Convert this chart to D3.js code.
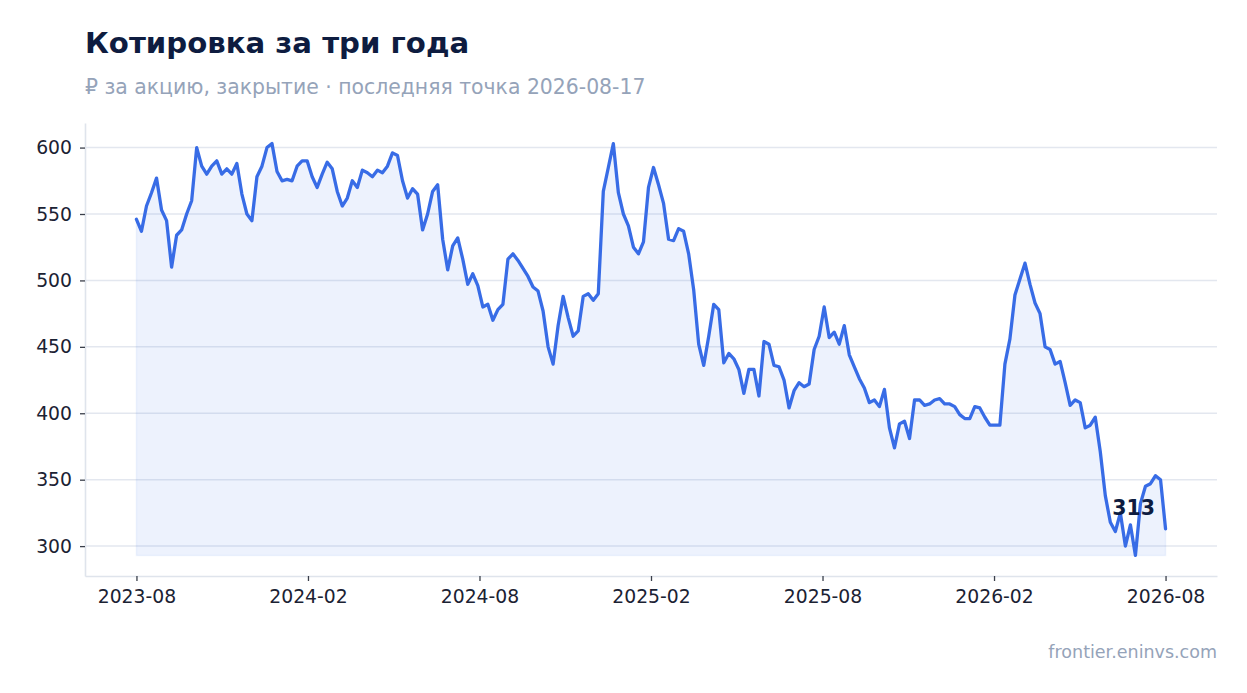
<!DOCTYPE html>
<html>
<head>
<meta charset="utf-8">
<script src="https://cdn.jsdelivr.net/npm/d3@7"></script>
<style>
  body { margin: 0; background: #fff; }
  svg { display: block; font-family: "DejaVu Sans", sans-serif; }
</style>
</head>
<body>
<div id="chart"></div>
<script>
// closing prices, evenly spaced in time from firstDate to lastDate
const firstDate = "2023-08-17";
const lastDate = "2026-08-17";
const prices = [
  546, 537, 556, 566, 577, 553, 545, 510, 534, 538,
  550, 560, 600, 586, 580, 586, 590, 580, 584, 580,
  588, 565, 550, 545, 578, 586, 600, 603, 582, 575,
  576, 575, 586, 590, 590, 578, 570, 580, 589, 584,
  567, 556, 562, 575, 570, 583, 581, 578, 583, 581,
  586, 596, 594, 575, 562, 569, 565, 538, 550, 567,
  572, 531, 508, 526, 532, 516, 497, 505, 496, 480,
  482, 470, 478, 482, 516, 520, 515, 509, 503, 495,
  492, 477, 450, 437, 466, 488, 472, 458, 462, 488,
  490, 485, 490, 567, 585, 603, 566, 550, 541, 525,
  520, 529, 570, 585, 572, 558, 531, 530, 539, 537,
  520, 493, 452, 436, 458, 482, 478, 438, 445, 441,
  433, 415, 433, 433, 413, 454, 452, 436, 435, 425,
  404, 417, 423, 420, 422, 448, 458, 480, 457, 461,
  452, 466, 444, 435, 426, 419, 408, 410, 405, 418,
  389, 374, 392, 394, 381, 410, 410, 406, 407, 410,
  411, 407, 407, 405, 399, 396, 396, 405, 404, 397,
  391, 391, 391, 437, 456, 489, 501, 513, 497, 483,
  475, 450, 448, 437, 439, 423, 406, 410, 408, 389,
  391, 397, 371, 338, 318, 311, 325, 300, 316, 293,
  332, 345, 347, 353, 350, 313
];
const xTickLabels = ["2023-08", "2024-02", "2024-08", "2025-02", "2025-08", "2026-02", "2026-08"];
const yTicks = [300, 350, 400, 450, 500, 550, 600];

const title = "Котировка за три года";
const subtitle = "₽ за акцию, закрытие · последняя точка 2026-08-17";
const source = "frontier.eninvs.com";

drawChart();

function drawChart() {
  const W = 1247, H = 693;
  const margin = { left: 85, right: 30, top: 123, bottom: 117 };
  const iw = W - margin.left - margin.right;
  const ih = H - margin.top - margin.bottom;

  const parse = d3.utcParse("%Y-%m-%d");
  const t0 = parse(firstDate), t1 = parse(lastDate);
  const step = (t1 - t0) / (prices.length - 1);
  const data = prices.map((v, i) => ({ date: new Date(+t0 + i * step), value: v }));

  const svg = d3.select("#chart").append("svg")
    .attr("width", W)
    .attr("height", H);

  // matplotlib-like 5% margins around the data
  const span = +t1 - +t0;
  const x = d3.scaleUtc()
    .domain([new Date(+t0 - span * 0.05), new Date(+t1 + span * 0.05)])
    .range([0, iw]);

  const [vmin, vmax] = d3.extent(prices);
  const pad = (vmax - vmin) * 0.05;
  const y = d3.scaleLinear()
    .domain([vmin - pad, vmax + pad])
    .range([ih, 0]);

  svg.append("text")
    .attr("x", margin.left).attr("y", 53)
    .attr("font-size", 29.2).attr("font-weight", "bold")
    .attr("fill", "#0e1c40")
    .text(title);

  svg.append("text")
    .attr("x", margin.left).attr("y", 94)
    .attr("font-size", 20.4)
    .attr("fill", "#95a3b9")
    .text(subtitle);

  svg.append("text")
    .attr("x", W - margin.right).attr("y", 658)
    .attr("text-anchor", "end")
    .attr("font-size", 17.5)
    .attr("fill", "#95a3b9")
    .text(source);

  const g = svg.append("g")
    .attr("transform", `translate(${margin.left},${margin.top})`);

  // horizontal grid
  g.append("g")
    .selectAll("line")
    .data(yTicks)
    .enter().append("line")
    .attr("x1", 0).attr("x2", iw)
    .attr("y1", d => y(d)).attr("y2", d => y(d))
    .attr("stroke", "#e3e7ef")
    .attr("stroke-width", 1.5);

  // shaded area down to the lowest close
  const area = d3.area()
    .x(d => x(d.date))
    .y0(y(vmin))
    .y1(d => y(d.value));

  g.append("path")
    .datum(data)
    .attr("d", area)
    .attr("fill", "#3a6ee8")
    .attr("fill-opacity", 0.09)
    .attr("stroke", "#3a6ee8")
    .attr("stroke-opacity", 0.07)
    .attr("stroke-width", 1.5);

  const line = d3.line()
    .x(d => x(d.date))
    .y(d => y(d.value));

  g.append("path")
    .datum(data)
    .attr("d", line)
    .attr("fill", "none")
    .attr("stroke", "#386ce6")
    .attr("stroke-width", 3.3)
    .attr("stroke-linejoin", "round")
    .attr("stroke-linecap", "round");

  // x ticks sit at equal steps from first to last date
  const xTickDates = xTickLabels.map((d, i) => new Date(+t0 + i * span / (xTickLabels.length - 1)));

  const xAxis = g.append("g")
    .attr("transform", `translate(0,${ih})`)
    .call(d3.axisBottom(x)
      .tickValues(xTickDates)
      .tickFormat((d, i) => xTickLabels[i])
      .tickSize(5)
      .tickPadding(9)
      .tickSizeOuter(0));

  const yAxis = g.append("g")
    .call(d3.axisLeft(y)
      .tickValues(yTicks)
      .tickSize(5)
      .tickPadding(8)
      .tickSizeOuter(0));

  [xAxis, yAxis].forEach(a => {
    a.select(".domain").attr("stroke", "#dfe4ec").attr("stroke-width", 1.6);
    a.selectAll(".tick line").attr("stroke", "#3a3f4a").attr("stroke-width", 1.3);
    a.selectAll(".tick text")
      .attr("font-size", 18.8)
      .attr("font-family", "DejaVu Sans, sans-serif")
      .attr("fill", "#1b2233");
  });

  // last value label
  const last = data[data.length - 1];
  g.append("text")
    .attr("x", x(last.date) - 32)
    .attr("y", y(last.value) - 14)
    .attr("text-anchor", "middle")
    .attr("font-size", 20.5)
    .attr("font-weight", "bold")
    .attr("fill", "#0e1c40")
    .text(last.value);
}
</script>
</body>
</html>
